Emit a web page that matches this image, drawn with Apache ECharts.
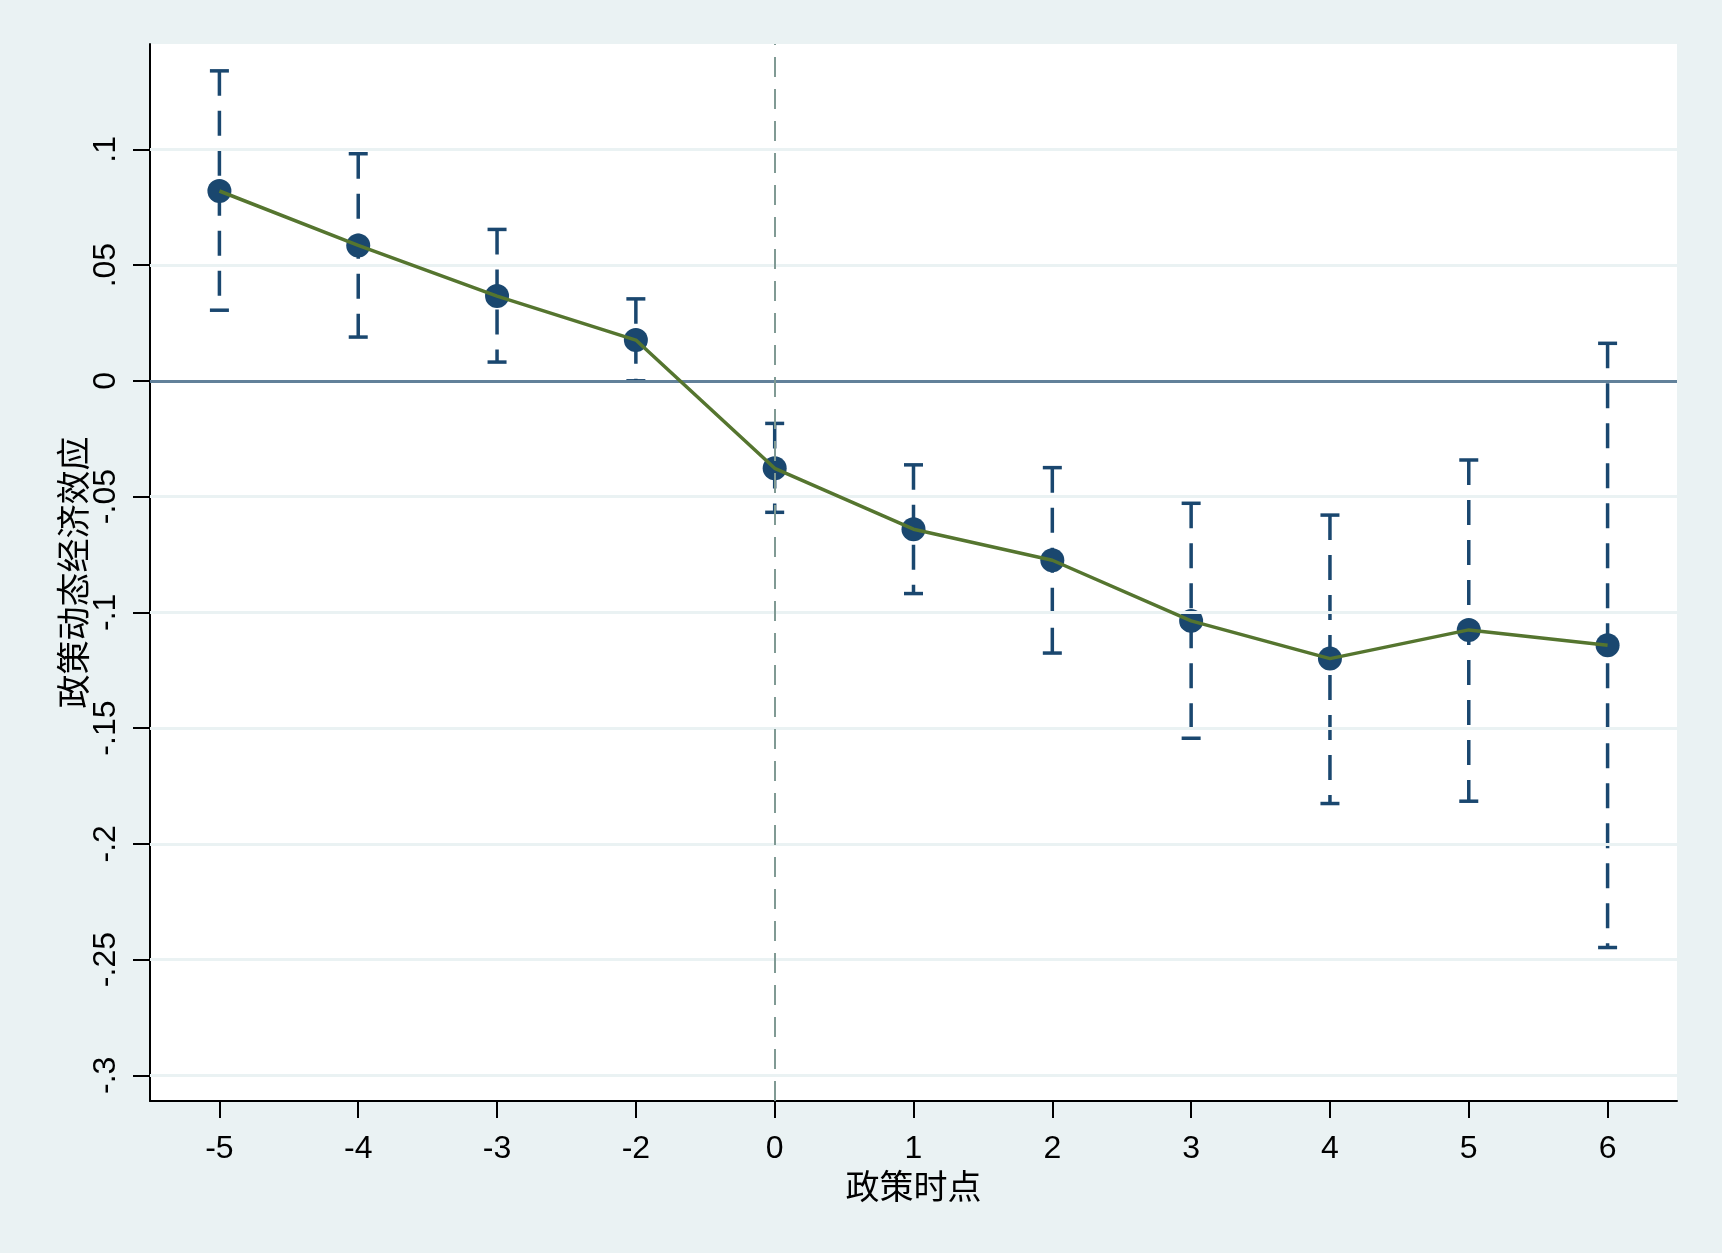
<!DOCTYPE html>
<html>
<head>
<meta charset="utf-8">
<script src="https://cdn.jsdelivr.net/npm/echarts@6/dist/echarts.min.js"></script>
<style>
html,body{margin:0;padding:0;background:#EAF2F3;}
#chart{width:1722px;height:1253px;}
</style>
</head>
<body>
<div id="chart"></div>
<script>
// ---- data ----
var categories = ['-5','-4','-3','-2','0','1','2','3','4','5','6'];
var estimates  = [0.0820, 0.0585, 0.0366, 0.0176, -0.0378, -0.0641, -0.0775, -0.1037, -0.1200, -0.1076, -0.1142];
var ciUpper    = [0.1339, 0.0981, 0.0654, 0.0354, -0.0184, -0.0363, -0.0375, -0.0529, -0.0580, -0.0342, 0.0162];
var ciLower    = [0.0305, 0.0189, 0.0081, 0.0000, -0.0568, -0.0919, -0.1176, -0.1544, -0.1826, -0.1816, -0.2448];
var yTicks     = [-0.3, -0.25, -0.2, -0.15, -0.1, -0.05, 0, 0.05, 0.1];
var policyCategory = '0';
var xTitle = '政策时点';
var yTitle = '政策动态经济效应';

function stataFmt(v){
  var s = (Math.round(v*1000)/1000).toString();
  if (s.indexOf('0.') === 0) s = s.slice(1);
  else if (s.indexOf('-0.') === 0) s = '-' + s.slice(2);
  return s;
}

var navy = '#1A476F';
var green = '#55752F';
var bg = '#EAF2F3';

var ciData = categories.map(function(c,i){ return [i, ciLower[i], ciUpper[i]]; });
var gridLines = yTicks.filter(function(v){ return v !== 0; }).map(function(v){ return {yAxis: v}; });

var chart = echarts.init(document.getElementById('chart'), null, {renderer:'canvas'});
chart.setOption({
  backgroundColor: bg,
  animation: false,
  textStyle: {fontFamily: '"Liberation Sans", Arial, "Noto Sans CJK SC", sans-serif'},
  grid: {left: 150, right: 45, top: 44, bottom: 152, show: true, backgroundColor: '#ffffff', borderWidth: 0},
  xAxis: {
    type: 'category',
    data: categories,
    boundaryGap: true,
    name: xTitle,
    nameLocation: 'middle',
    nameGap: 68,
    nameMoveOverlap: false,
    nameTextStyle: {fontSize: 34, color: '#000', fontFamily: '"Noto Sans CJK SC", sans-serif'},
    axisLine: {show: true, onZero: false, lineStyle: {color: '#000', width: 2}},
    axisTick: {show: true, alignWithLabel: true, length: 17, lineStyle: {color: '#000', width: 2}},
    axisLabel: {fontSize: 32, color: '#000', margin: 32, fontFamily: '"Liberation Sans", Arial, sans-serif'},
    splitLine: {show: false}
  },
  yAxis: {
    type: 'value',
    min: -0.3111,
    max: 0.1455,
    name: yTitle,
    nameLocation: 'middle',
    nameRotate: 90,
    nameGap: 60,
    nameMoveOverlap: false,
    nameTextStyle: {fontSize: 34, color: '#000', fontFamily: '"Noto Sans CJK SC", sans-serif'},
    axisLine: {show: true, lineStyle: {color: '#000', width: 2}},
    axisTick: {show: true, length: 17, lineStyle: {color: '#000', width: 2}, customValues: yTicks},
    axisLabel: {fontSize: 32, color: '#000', margin: 28, rotate: 90, customValues: yTicks,
      formatter: function(v){ return stataFmt(v); }, fontFamily: '"Liberation Sans", Arial, sans-serif'},
    splitLine: {show: false}
  },
  series: [
    {
      type: 'line',
      data: [],
      silent: true,
      z: 1,
      markLine: {
        silent: true,
        symbol: 'none',
        label: {show: false},
        lineStyle: {color: bg, width: 3, type: 'solid'},
        data: gridLines
      }
    },
    {
      type: 'line',
      data: [],
      silent: true,
      z: 2,
      markLine: {
        silent: true,
        symbol: 'none',
        label: {show: false},
        data: [
          {yAxis: 0, lineStyle: {color: '#62819A', width: 3, type: 'solid'}},
          {xAxis: policyCategory, lineStyle: {color: '#809A94', width: 2, type: [20, 12]}}
        ]
      }
    },
    {
      type: 'custom',
      z: 3,
      data: ciData,
      renderItem: function(params, api){
        var x = api.value(0);
        var lo = api.coord([x, api.value(1)]);
        var hi = api.coord([x, api.value(2)]);
        var hw = 9.5;
        var st = {stroke: navy, lineWidth: 3.5};
        return {
          type: 'group',
          children: [
            {type: 'line', shape: {x1: hi[0], y1: hi[1], x2: lo[0], y2: lo[1]},
              style: {stroke: navy, lineWidth: 3.5, lineDash: [25, 15]}},
            {type: 'line', shape: {x1: hi[0]-hw, y1: hi[1], x2: hi[0]+hw, y2: hi[1]}, style: st},
            {type: 'line', shape: {x1: lo[0]-hw, y1: lo[1], x2: lo[0]+hw, y2: lo[1]}, style: st}
          ]
        };
      }
    },
    {
      type: 'scatter',
      z: 4,
      data: estimates,
      symbol: 'circle',
      symbolSize: 24,
      itemStyle: {color: navy, opacity: 1}
    },
    {
      type: 'line',
      z: 5,
      data: estimates,
      symbol: 'none',
      lineStyle: {color: green, width: 3.5}
    }
  ]
});
</script>
</body>
</html>
